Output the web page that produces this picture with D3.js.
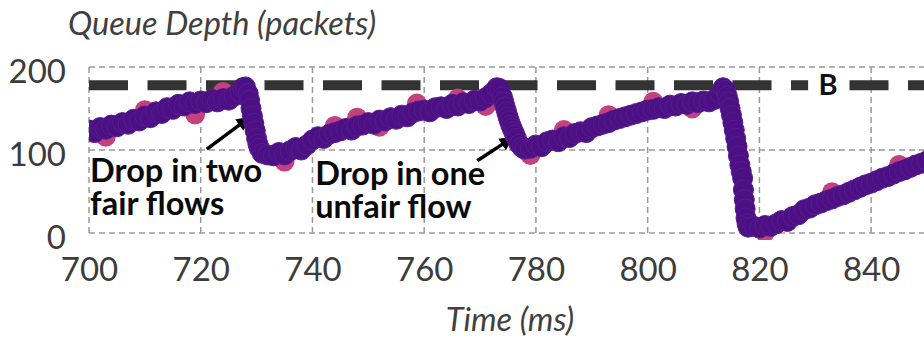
<!DOCTYPE html>
<html>
<head>
<meta charset="utf-8">
<script src="https://cdn.jsdelivr.net/npm/d3@7"></script>
<style>
    body { margin: 0; background: #fff; }
    svg { display: block; font-family: Lato, "Open Sans", sans-serif; }
</style>
</head>
<body>
<svg id="queue-svg" width="924" height="338"></svg>
<script>
// samples (time in ms, queue depth in packets)
var timeMs = [700, 701, 702, 703, 704, 705, 706, 707, 708, 709, 710, 711, 712, 713, 714, 715, 716, 717, 718, 719,
    720, 721, 722, 723, 724, 725, 726, 727, 727.5, 728, 728.5, 728.75, 729, 729.25, 729.5, 729.75, 730, 730.25, 730.5, 731,
    732, 733, 734, 735, 736, 737, 738, 739, 740, 741, 742, 743, 744, 745, 746, 747, 748, 749, 750, 751,
    752, 753, 754, 755, 756, 757, 758, 759, 760, 761, 762, 763, 764, 765, 766, 767, 768, 769, 770, 771,
    772, 773, 773.5, 774, 774.25, 774.5, 774.75, 775, 775.25, 775.5, 775.75, 776, 776.25, 776.5, 777, 777.5, 778, 779, 780, 781,
    782, 783, 784, 785, 786, 787, 788, 789, 790, 791, 792, 793, 794, 795, 796, 797, 798, 799, 800, 801,
    802, 803, 804, 805, 806, 807, 808, 809, 810, 811, 812, 813, 813.5, 814, 814.25, 814.5, 814.75, 815, 815.25, 815.5,
    815.75, 816, 816.25, 816.5, 816.75, 817, 817.15, 817.3, 817.45, 817.6, 817.8, 818, 819, 820, 821, 822, 823, 824, 825, 826,
    827, 828, 829, 830, 831, 832, 833, 834, 835, 836, 837, 838, 839, 840, 841, 842, 843, 844, 845, 846,
    847, 848, 849, 850];
var depthPkts = [124, 121, 127, 125, 130, 128, 133, 131, 137, 135, 141, 139, 146, 144, 151, 149, 155, 153, 158, 156,
    159, 157, 161, 158, 162, 160, 165, 170, 175, 176, 168, 160, 150, 141, 132, 123, 114, 107, 102, 96,
    94, 93, 97, 94, 99, 103, 100, 106, 112, 116, 114, 119, 121, 123, 126, 124, 129, 130, 133, 131,
    136, 135, 139, 137, 142, 140, 145, 147, 148, 146, 151, 152, 150, 155, 153, 157, 156, 160, 159, 163,
    168, 175, 174, 164, 158, 152, 146, 140, 135, 130, 126, 122, 118, 114, 107, 103, 101, 102, 106, 104,
    110, 112, 110, 116, 115, 120, 122, 121, 127, 129, 131, 133, 136, 138, 140, 142, 144, 146, 148, 149,
    151, 150, 154, 153, 156, 155, 158, 157, 159, 158, 161, 168, 175, 172, 165, 158, 150, 142, 133, 124,
    114, 104, 93, 82, 74, 66, 52, 40, 29, 18, 11, 7, 8, 6, 9, 8, 11, 15, 14, 20,
    22, 28, 30, 34, 36, 39, 41, 44, 46, 49, 52, 55, 58, 60, 63, 66, 68, 71, 74, 76,
    79, 82, 84, 87];

// second (pink) series, mostly hidden under the purple one
var pinkTime = [703, 710, 719, 724, 729.8, 735, 744, 748, 752, 758.7, 766, 771, 779, 785, 793, 801, 808, 817.1, 821, 833, 845];
var pinkDepth = [116, 148, 143, 170, 124, 86, 129, 139, 128, 156, 162, 153, 94, 124, 142, 158, 150, 53, 1, 49, 82];

var xTicks = [700, 720, 740, 760, 780, 800, 820, 840];
var yTicks = [0, 100, 200];
var bufferSize = 178;

var annoText = [["Drop in two", "fair flows"], ["Drop in one", "unfair flow"]];
var annoAt = [[700.2, 62], [740.5, 58]];
var arrowFrom = [[721.1, 101], [769.5, 87]];
var arrowTo = [[728.5, 138], [775.6, 114]];

function build_queue_chart()
{
    var svg = d3.select("#queue-svg");

    var x = d3.scaleLinear().domain([700, 850]).range([89, 927]);
    var y = d3.scaleLinear().domain([0, 200]).range([233, 67]);

    svg.append("defs").append("clipPath").attr("id", "plot-clip")
        .append("rect").attr("x", x(700)).attr("y", 0).attr("width", 924 - x(700)).attr("height", 240);

    svg.select("defs").append("marker")
        .attr("id", "arrow-head")
        .attr("viewBox", "0 0 10 10")
        .attr("refX", 8).attr("refY", 5)
        .attr("markerWidth", 4).attr("markerHeight", 4)
        .attr("orient", "auto")
        .append("path").attr("d", "M0,0 L10,5 L0,10 z").attr("fill", "#000");

    // grid
    var grid = svg.append("g").attr("stroke", "#9a9a9a").attr("stroke-width", 1.5).attr("stroke-dasharray", "6,4");
    grid.selectAll("line.v").data(xTicks).enter().append("line")
        .attr("x1", function(d) { return x(d); }).attr("x2", function(d) { return x(d); })
        .attr("y1", y(200)).attr("y2", y(0) + 3);
    grid.selectAll("line.h").data(yTicks).enter().append("line")
        .attr("x1", x(700)).attr("x2", 924)
        .attr("y1", function(d) { return y(d); }).attr("y2", function(d) { return y(d); });

    // axes, only labels are shown
    var xAxis = svg.append("g").attr("transform", "translate(0," + y(0) + ")")
        .call(d3.axisBottom(x).tickValues(xTicks).tickSize(0).tickPadding(25));
    xAxis.select(".domain").remove();
    xAxis.selectAll("text").attr("font-size", 33).attr("fill", "#3c3c3c").attr("font-family", "Lato");

    var yAxis = svg.append("g").attr("transform", "translate(" + x(700) + ",0)")
        .call(d3.axisLeft(y).tickValues(yTicks).tickSize(0).tickPadding(23));
    yAxis.select(".domain").remove();
    yAxis.selectAll("text").attr("font-size", 33).attr("fill", "#3c3c3c").attr("font-family", "Lato")
        .attr("dy", "0.48em");

    svg.append("text").attr("x", 68).attr("y", 35)
        .attr("font-size", 32.5).attr("font-style", "italic").attr("fill", "#404040")
        .text("Queue Depth (packets)");
    svg.append("text").attr("x", 510).attr("y", 331).attr("text-anchor", "middle")
        .attr("font-size", 32.5).attr("font-style", "italic").attr("fill", "#404040")
        .text("Time (ms)");

    // buffer size line
    svg.append("line")
        .attr("x1", x(700)).attr("x2", 924)
        .attr("y1", y(bufferSize)).attr("y2", y(bufferSize))
        .attr("stroke", "#333").attr("stroke-width", 10).attr("stroke-dasharray", "39,19.5");
    svg.append("rect").attr("x", x(832.3) - 20).attr("y", y(bufferSize) - 15)
        .attr("width", 40).attr("height", 30).attr("fill", "#fff");
    svg.append("text").attr("x", x(832.3)).attr("y", y(bufferSize) + 9.5)
        .attr("text-anchor", "middle").attr("font-size", 29).attr("font-weight", "bold").attr("fill", "#111")
        .text("B");

    // annotations
    annoText.forEach(function(lines, i) {
        var t = svg.append("text").attr("font-size", 32.5).attr("font-weight", "bold").attr("fill", "#0a0a0a");
        lines.forEach(function(s, j) {
            t.append("tspan").attr("x", x(annoAt[i][0])).attr("y", y(annoAt[i][1]) + j * 33).text(s);
        });
        svg.append("line")
            .attr("x1", x(arrowFrom[i][0])).attr("y1", y(arrowFrom[i][1]))
            .attr("x2", x(arrowTo[i][0])).attr("y2", y(arrowTo[i][1]))
            .attr("stroke", "#000").attr("stroke-width", 3.5)
            .attr("marker-end", "url(#arrow-head)");
    });

    // the samples
    var pts = svg.append("g").attr("clip-path", "url(#plot-clip)");
    pts.selectAll("circle.pink").data(d3.range(pinkTime.length)).enter().append("circle")
        .attr("cx", function(i) { return x(pinkTime[i]); })
        .attr("cy", function(i) { return y(pinkDepth[i]); })
        .attr("r", 10).attr("fill", "#c2417f");
    pts.selectAll("circle.purple").data(d3.range(timeMs.length)).enter().append("circle")
        .attr("cx", function(i) { return x(timeMs[i]); })
        .attr("cy", function(i) { return y(depthPkts[i]); })
        .attr("r", 10).attr("fill", "#4a1084").attr("stroke", "#5a1a8e").attr("stroke-width", 1);
}

build_queue_chart();
</script>
</body>
</html>
